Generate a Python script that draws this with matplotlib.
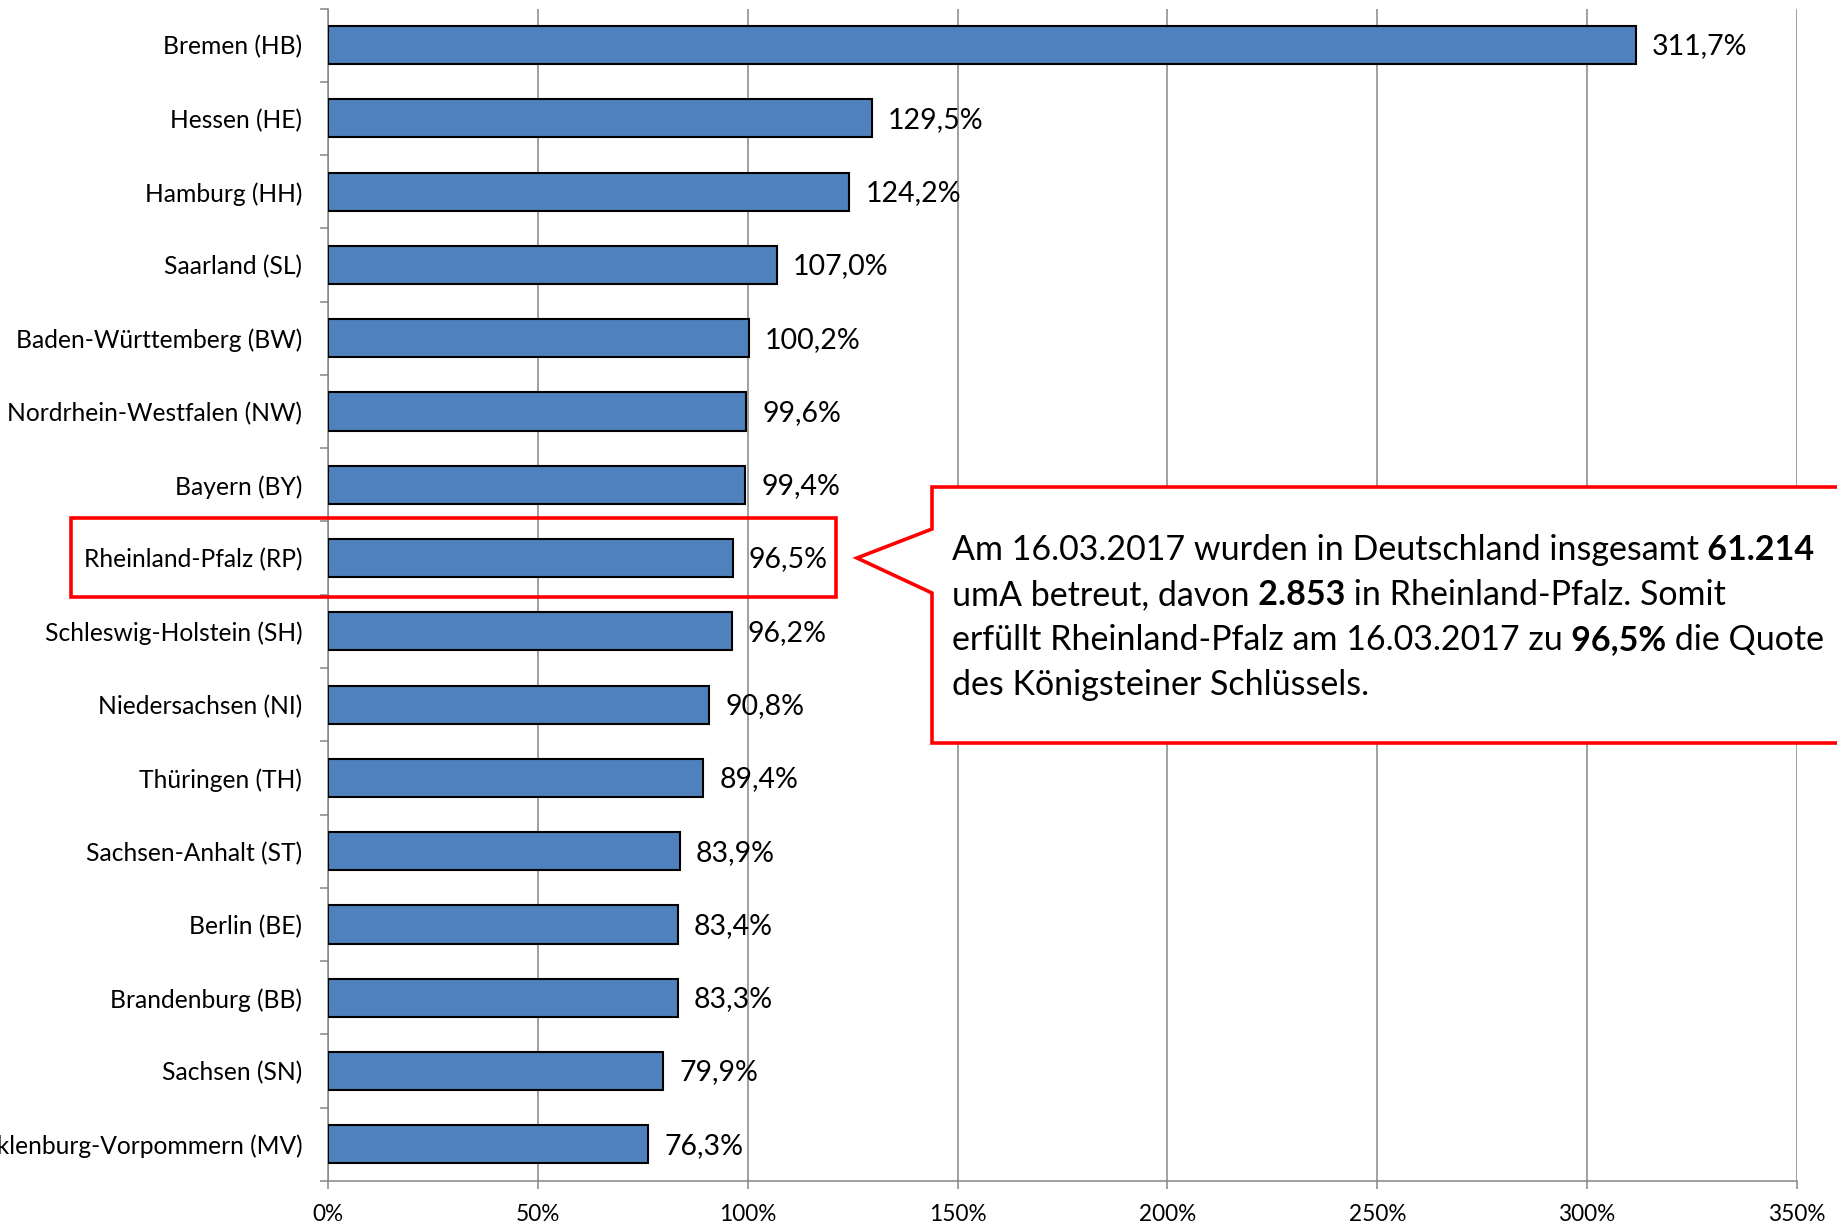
import matplotlib
matplotlib.use("Agg")
import matplotlib.pyplot as plt
from matplotlib.patches import Polygon, Rectangle
from matplotlib.text import Annotation

plt.rcParams['font.family'] = ['Lato', 'DejaVu Sans']

# === Daten ===
laender = ["Bremen (HB)", "Hessen (HE)", "Hamburg (HH)", "Saarland (SL)",
           "Baden-Württemberg (BW)", "Nordrhein-Westfalen (NW)", "Bayern (BY)",
           "Rheinland-Pfalz (RP)", "Schleswig-Holstein (SH)", "Niedersachsen (NI)",
           "Thüringen (TH)", "Sachsen-Anhalt (ST)", "Berlin (BE)", "Brandenburg (BB)",
           "Sachsen (SN)", "Mecklenburg-Vorpommern (MV)"]
quote = [311.7, 129.5, 124.2, 107.0, 100.2, 99.6, 99.4, 96.5,
         96.2, 90.8, 89.4, 83.9, 83.4, 83.3, 79.9, 76.3]
x_ticks = [0, 50, 100, 150, 200, 250, 300, 350]

W, H = 1837, 1227
fig = plt.figure(figsize=(W / 100, H / 100), dpi=100)
ax = fig.add_axes([328 / W, 1 - 1181 / H, (1797 - 328) / W, (1181 - 8.5) / H])

grau = "#868686"
pos = list(range(len(laender)))
ax.barh(pos, quote, height=0.52, color="#4F81BD", edgecolor="black", linewidth=1.5, zorder=3)

for p, v in zip(pos, quote):
    ax.annotate(f"{v:.1f}".replace(".", ",") + "%", xy=(v, p), xytext=(11.5, -1),
                textcoords="offset points", va="center", ha="left", fontsize=20.5, zorder=4)

ax.set_ylim(len(laender) - 0.5, -0.5)
ax.set_xlim(0, 350)
ax.set_yticks(pos)
ax.set_yticklabels(laender, fontsize=17.7)
ax.set_yticks([p - 0.5 for p in range(len(laender) + 1)], minor=True)
ax.tick_params(axis="y", which="major", length=0, pad=18.5)
ax.tick_params(axis="y", which="minor", length=5.8, width=1.1, color=grau, direction="out")
ax.set_xticks(x_ticks)
ax.set_xticklabels([f"{t}%" for t in x_ticks], fontsize=16.3)
ax.tick_params(axis="x", length=5.8, width=1.1, color=grau, pad=11)

ax.grid(axis="x", color=grau, linewidth=1.1, zorder=0)
ax.set_axisbelow(True)
for s in ["top", "right"]:
    ax.spines[s].set_visible(False)
for s in ["left", "bottom"]:
    ax.spines[s].set_color(grau)
    ax.spines[s].set_linewidth(1.1)

# === Markierung Rheinland-Pfalz ===
fig.patches.append(Rectangle((71 / W, 1 - 597 / H), (836 - 71) / W, (597 - 518) / H,
                             transform=fig.transFigure, fill=False, edgecolor="red",
                             linewidth=2.6, zorder=10))

# === Sprechblase ===
blase = [(932, 487), (1900, 487), (1900, 743), (932, 743), (932, 593), (857, 558), (932, 529)]
fig.patches.append(Polygon([(x / W, 1 - y / H) for x, y in blase], closed=True,
                           transform=fig.transFigure, facecolor="white", edgecolor="red",
                           linewidth=2.6, zorder=10))

zeilen = [
    [("Am 16.03.2017 wurden in Deutschland insgesamt", "normal"), (" 61.214", "bold")],
    [("umA betreut, davon", "normal"), (" 2.853", "bold"), (" in Rheinland-Pfalz. Somit", "normal")],
    [("erfüllt Rheinland-Pfalz am 16.03.2017 zu", "normal"), (" 96,5%", "bold"), (" die Quote", "normal")],
    [("des Königsteiner Schlüssels.", "normal")],
]
y0 = 560
for i, zeile in enumerate(zeilen):
    y = 1 - (y0 + i * 45) / H
    prev = fig.text(952 / W, y, zeile[0][0], fontsize=24.5, fontweight=zeile[0][1],
                    va="baseline", ha="left", zorder=11)
    for txt, gew in zeile[1:]:
        a = Annotation(txt, xy=(1, 0), xycoords=prev, va="bottom", ha="left",
                       fontsize=24.5, fontweight=gew, zorder=11, annotation_clip=False)
        fig.add_artist(a)
        prev = a

fig.savefig("out.png", dpi=100)
